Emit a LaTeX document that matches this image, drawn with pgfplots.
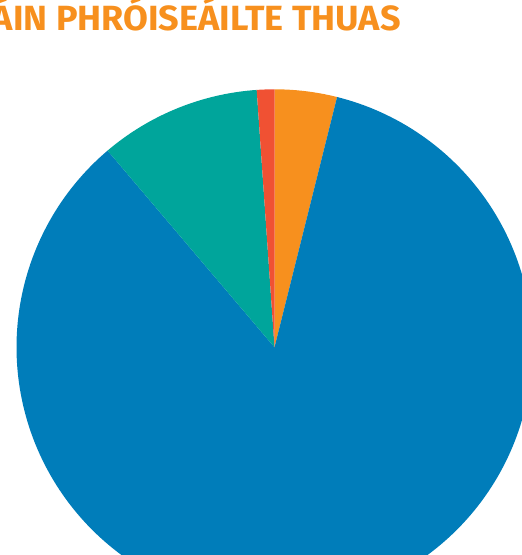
\documentclass[border=0pt]{standalone}
\usepackage{pgfplots}
\pgfplotsset{compat=1.18}
\usepackage{fontspec}
\setmainfont{Fira Sans}
\usepackage{graphicx}
\definecolor{cOrange}{HTML}{F7901E}
\definecolor{cBlue}{HTML}{007DBA}
\definecolor{cTeal}{HTML}{00A59B}
\definecolor{cRed}{HTML}{F05133}
% shares in percent (clockwise from 12 o'clock)
\def\vOrange{3.9}
\def\vBlue{84.9}
\def\vTeal{10.1}
\def\vRed{1.1}
\def\cx{274.5}
\def\cy{207.7}
\def\R{258}
\newcommand{\slice}[3]{%
  \addplot[fill=#3, draw=none, samples=240, variable=\t,
    domain={90-3.6*(#2)}:{90-3.6*(#1)}]
    ({\cx+\R*cos(\t)},{\cy+\R*sin(\t)}) -- (axis cs:\cx,\cy) -- cycle;}
\begin{document}
\begin{tikzpicture}[x=1pt,y=1pt]
\useasboundingbox (0,0) rectangle (522,555);
\clip (0,0) rectangle (522,555);
\begin{axis}[at={(0,0)}, anchor=south west, scale only axis,
  width=522pt, height=555pt, xmin=0, xmax=522, ymin=0, ymax=555,
  hide axis, clip=false]
\slice{0}{\vOrange}{cOrange}
\slice{\vOrange}{\vOrange+\vBlue}{cBlue}
\slice{\vOrange+\vBlue}{\vOrange+\vBlue+\vTeal}{cTeal}
\slice{\vOrange+\vBlue+\vTeal}{100}{cRed}
\node[anchor=base east, inner sep=0pt, text=cOrange] at (axis cs:401,524.3)
  {\resizebox{409pt}{\height}{\fontsize{35pt}{35pt}\selectfont\bfseries ÁIN PHRÓISEÁILTE THUAS}};
\end{axis}
\end{tikzpicture}
\end{document}
